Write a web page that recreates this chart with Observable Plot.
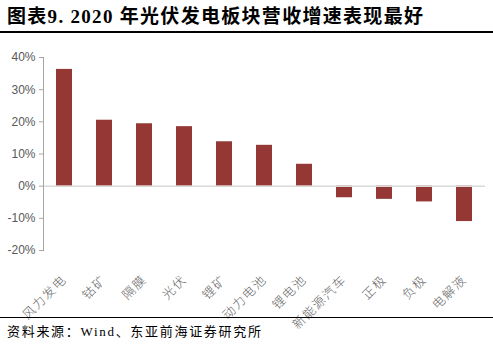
<!DOCTYPE html>
<html>
<head>
<meta charset="utf-8">
<script src="https://cdn.jsdelivr.net/npm/d3@7"></script>
<script src="https://cdn.jsdelivr.net/npm/@observablehq/plot@0.6"></script>
<style>
  body { margin: 0; background: #fff; width: 493px; height: 355px; overflow: hidden; }
  #title { height: 31px; border-bottom: 2px solid #000; font-family: "Liberation Serif", "Noto Sans CJK SC", serif; font-weight: bold; font-size: 19px; letter-spacing: 1.3px; line-height: 34px; padding-left: 7px; color: #000; box-sizing: content-box; white-space: nowrap; }
  #chart svg { display: block; overflow: visible; }
  #caption { position: relative; border-top: 1.5px solid #000; font-family: "Liberation Serif", "Noto Sans CJK SC", serif; font-size: 13px; letter-spacing: 1.7px; padding-left: 7px; padding-top: 3px; color: #000; white-space: nowrap; }
</style>
</head>
<body>
<div id="title">图表9. 2020 年光伏发电板块营收增速表现最好</div>
<div id="chart"></div>
<div id="caption">资料来源：Wind、东亚前海证券研究所</div>
<script>
const categories = ["风力发电", "钴矿", "隔膜", "光伏", "锂矿", "动力电池", "锂电池", "新能源汽车", "正极", "负极", "电解液"];
const growth = [36.3, 20.5, 19.4, 18.5, 13.8, 12.7, 6.8, -3.6, -4.1, -4.9, -11.0];
const yTicks = [-20, -10, 0, 10, 20, 30, 40];

const data = categories.map((c, i) => ({category: c, value: growth[i]}));

const chart = Plot.plot({
  width: 493,
  height: 284,
  marginLeft: 43,
  marginRight: 8,
  marginTop: 24,
  marginBottom: 67,
  x: {domain: categories, paddingInner: 0.6, paddingOuter: 0.3},
  y: {domain: [-20, 40]},
  style: {fontFamily: "'Liberation Sans', Arial, sans-serif", fontSize: "12px", color: "#595959", background: "transparent", overflow: "visible"},
  marks: [
    Plot.barY(data, {x: "category", y: "value", fill: "#953735"}),
    Plot.ruleY([0], {stroke: "#d9d9d9", strokeWidth: 1.5}),
    Plot.frame({anchor: "left", stroke: "#a6a6a6"}),
    Plot.axisY({ticks: yTicks, tickFormat: d => d + "%", tickSize: 4, tickPadding: 4, stroke: "#a6a6a6", fill: "#595959", fontSize: 12, label: null}),
    Plot.axisX({tickSize: 0, tickRotate: -45, tickPadding: 27, fontSize: 12.5, fill: "#666666", fontFamily: "'Noto Sans CJK SC', sans-serif", fontWeight: 300, label: null})
  ]
});
chart.querySelectorAll("g[aria-label='x-axis tick label'] text").forEach(t => t.style.letterSpacing = "1.5px");
document.getElementById("chart").appendChild(chart);
</script>
</body>
</html>
